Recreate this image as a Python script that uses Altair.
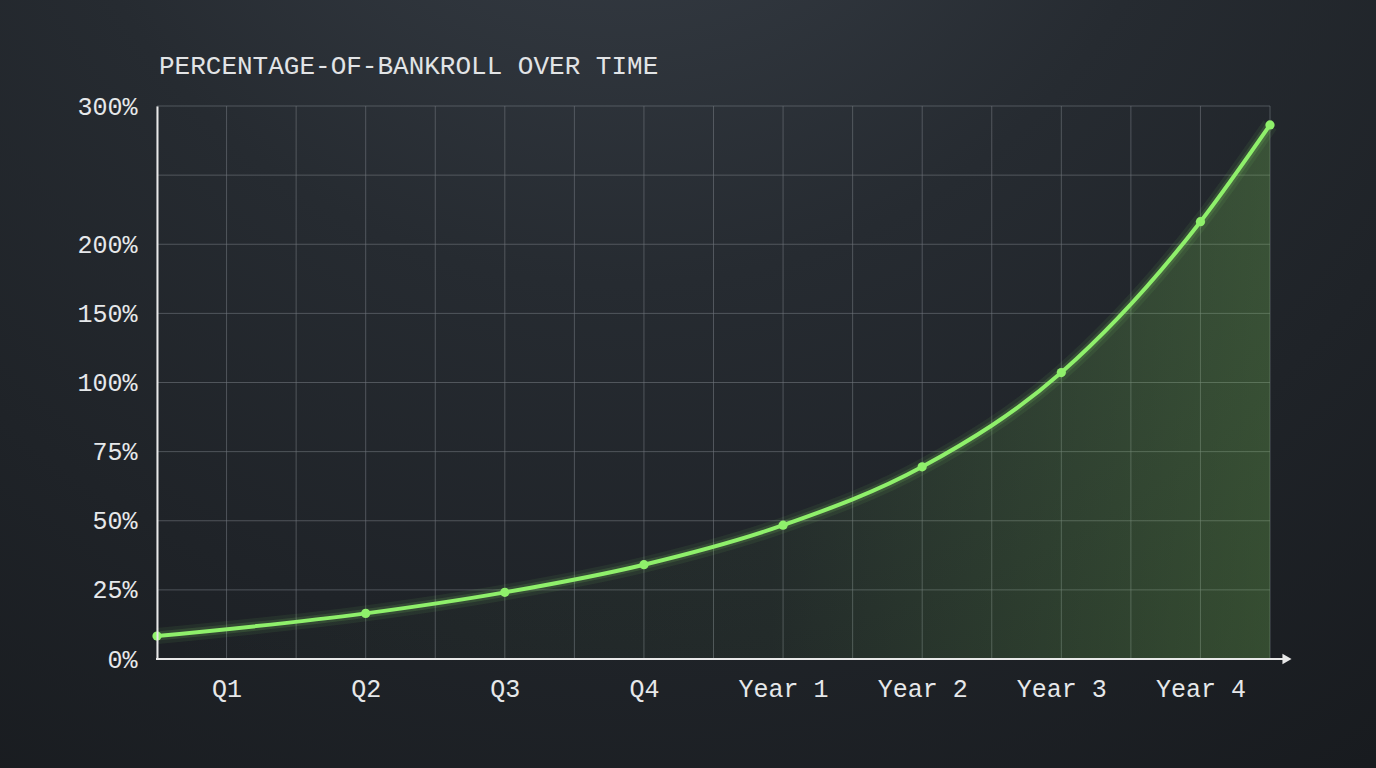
import altair as alt
import pandas as pd

# ---- data ----
x_positions = [0, 3, 5, 7, 9, 11, 13, 15, 16]
pct_values = [8.3, 16.5, 24.1, 34.1, 48.4, 69.5, 107.2, 216.3, 286.3]

x_grid_positions = [0, 1, 2, 3, 4, 5, 6, 7, 8, 9, 10, 11, 12, 13, 14, 15, 16]
x_tick_positions = [1, 3, 5, 7, 9, 11, 13, 15]
x_tick_labels = ["Q1", "Q2", "Q3", "Q4", "Year 1", "Year 2", "Year 3", "Year 4"]
y_tick_values = [0, 25, 50, 75, 100, 150, 200, 250, 300]
y_hidden_ticks = [250]
title_text = "PERCENTAGE-OF-BANKROLL OVER TIME"

df = pd.DataFrame({"x": x_positions, "v": pct_values})
xgrid_df = pd.DataFrame({"x": x_grid_positions})
ygrid_df = pd.DataFrame({"v": y_tick_values})
one_df = pd.DataFrame({"t": [title_text]})

W, H = 1113, 553
PAD_L, PAD_T, PAD_R, PAD_B = 157, 106, 1376 - 157 - 1113, 768 - 106 - 553
FONT = "Liberation Mono"
GREEN = "#8ff06b"
GRID = "#6f757c"

label_expr = " : ".join(
    f"datum.value == {p} ? '{t}'" for p, t in zip(x_tick_positions, x_tick_labels)
) + " : ''"
y_label_expr = " || ".join(f"datum.value == {v}" for v in y_hidden_ticks) + " ? '' : datum.value + '%'"

x_scale = alt.Scale(domain=[0, 16], nice=False, zero=False)
y_scale = alt.Scale(domain=[0, 100, 300], range=[H, H / 2, 0], nice=False)

x_axis = alt.Axis(
    values=x_grid_positions,
    labelExpr=label_expr,
    title=None,
    grid=False,
    domain=False,
    ticks=False,
    tickSize=0,
    labelPadding=17,
    labelFont=FONT,
    labelFontSize=25,
    labelColor="#e6e8ea",
    labelFlush=False,
    labelOverlap=False,
    zindex=2,
)
y_axis = alt.Axis(
    values=y_tick_values,
    labelExpr=y_label_expr,
    title=None,
    grid=False,
    domain=True,
    domainColor="#e8e8e8",
    domainWidth=2,
    ticks=False,
    tickSize=0,
    labelPadding=20,
    labelFont=FONT,
    labelFontSize=25,
    labelColor="#e6e8ea",
    labelOverlap=False,
    labelFlush=False,
    zindex=2,
)

X = alt.X("x:Q", scale=x_scale, axis=x_axis)
Y = alt.Y("v:Q", scale=y_scale, axis=y_axis)

base = alt.Chart(df)
single = alt.Chart(one_df)

# background radial glow
bg = single.mark_rect(
    fill=alt.RadialGradient(
        gradient="radial",
        x1=0.45, y1=0.0, r1=0.0,
        x2=0.45, y2=0.0, r2=0.95,
        stops=[
            alt.GradientStop(offset=0, color="#3b424b"),
            alt.GradientStop(offset=0.45, color="#262b31"),
            alt.GradientStop(offset=1, color="#181b1f"),
        ],
    ),
    clip=False,
).encode(
    x=alt.value(-PAD_L), x2=alt.value(W + PAD_R),
    y=alt.value(-PAD_T), y2=alt.value(H + PAD_B),
)

xgrid = alt.Chart(xgrid_df).mark_rule(color=GRID, opacity=0.6, strokeWidth=1).encode(x=X)
ygrid = alt.Chart(ygrid_df).mark_rule(color=GRID, opacity=0.6, strokeWidth=1).encode(y=Y)

area = base.mark_area(
    interpolate="monotone",
    fill=alt.LinearGradient(
        gradient="linear",
        x1=0, y1=0, x2=1, y2=0,
        stops=[
            alt.GradientStop(offset=0, color="rgba(110,190,80,0.0)"),
            alt.GradientStop(offset=0.55, color="rgba(110,190,80,0.05)"),
            alt.GradientStop(offset=1, color="rgba(120,195,85,0.28)"),
        ],
    ),
).encode(x=X, y=Y)

glow1 = base.mark_line(interpolate="monotone", color=GREEN, strokeWidth=16, opacity=0.07).encode(x=X, y=Y)
glow2 = base.mark_line(interpolate="monotone", color=GREEN, strokeWidth=9, opacity=0.13).encode(x=X, y=Y)
line = base.mark_line(interpolate="monotone", color=GREEN, strokeWidth=4).encode(x=X, y=Y)
pts = base.mark_circle(color=GREEN, size=85, opacity=1).encode(x=X, y=Y)

# x axis line with arrow
axis_line = single.mark_rule(color="#e8e8e8", strokeWidth=2, clip=False).encode(
    x=alt.value(-1), x2=alt.value(W + 14), y=alt.value(H)
)
arrow = single.mark_point(shape="triangle-right", filled=True, color="#e8e8e8", size=110, opacity=1, clip=False).encode(
    x=alt.value(W + 17), y=alt.value(H)
)

title = single.mark_text(
    align="left", baseline="alphabetic", font=FONT, fontSize=26, fontWeight="normal",
    color="#e2e4e6", clip=False
).encode(x=alt.value(2), y=alt.value(-32), text="t:N")

chart = alt.layer(bg, xgrid, ygrid, area, glow1, glow2, line, pts, axis_line, arrow, title).properties(
    width=W,
    height=H,
    autosize=alt.AutoSizeParams(type="none"),
    padding={"left": PAD_L, "top": PAD_T, "right": PAD_R, "bottom": PAD_B},
    background="#1c1f24",
).configure_view(stroke=None)

chart.save("out.html", embed_options={"renderer": "svg", "actions": False})
